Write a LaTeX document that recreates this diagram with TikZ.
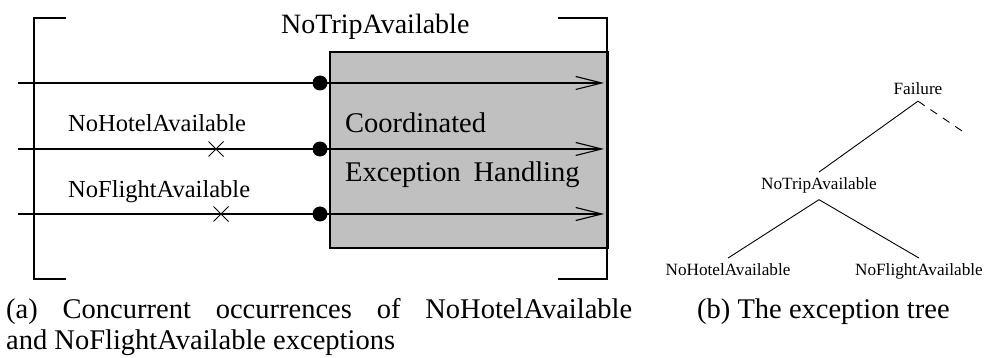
\documentclass[tikz,border=0pt]{standalone}
\usepackage{fontspec}
\setmainfont{Liberation Serif}
\usepackage{xcolor}
\definecolor{boxgray}{RGB}{192,192,192}
\usepackage{tikz}
\usetikzlibrary{arrows.meta, shapes.misc, positioning, calc}

\begin{document}
\begin{tikzpicture}[
  x=1pt, y=-1pt,
  >={Straight Barb[length=26pt, width=13pt]},
  handler/.style={
    rectangle, draw, line width=1.6pt, fill=boxgray, anchor=north west,
    minimum width=278pt, minimum height=196pt, inner sep=0pt
  },
  evline/.style={->, line width=1.1pt},
  bracket/.style={line width=1.4pt},
  dotmark/.style={circle, fill=black, inner sep=0pt, minimum size=15pt},
  crossmark/.style={cross out, draw, line width=1pt, inner sep=0pt, minimum size=14pt},
  lab/.style={inner sep=0pt, anchor=base west},
  evfont/.style={font=\fontsize{24.5}{29}\selectfont},
  boxfont/.style={font=\fontsize{28.5}{33}\selectfont},
  treelab/.style={inner sep=0pt, outer sep=6pt, anchor=base, font=\fontsize{17.2}{20}\selectfont},
  treeedge/.style={line width=0.9pt},
  capt/.style={inner sep=0pt, anchor=base west, font=\fontsize{28.5}{31}\selectfont}
]
\useasboundingbox (0,0) rectangle (986,358);

% (a) concurrent exceptions
\node[handler] (box) at (329,51) {};
\draw[bracket] (66,18) -| (34,279) -- (66,279);
\draw[bracket] (558,18) -| (607,279) -- (558,279);

\node[lab, font=\fontsize{28}{32}\selectfont] (trip) at (281,34) {NoTripAvailable};
\node[lab, boxfont] (coord) at (345,133) {Coordinated};
\node[lab, boxfont] (handling) at (345,182) {Exception\hspace{0.45em}Handling};

\foreach \i/\y in {1/83, 2/149, 3/214} {
  \coordinate (in\i) at (18,\y);
  \coordinate (out\i) at (604,\y);
  \draw[evline] (in\i) -- (out\i);
  \node[dotmark] (dot\i) at (320,\y) {};
}

\node[lab, evfont] (hotel) at (68,132) {NoHotelAvailable};
\node[lab, evfont] (flight) at (68,198) {NoFlightAvailable};
\node[crossmark] (hotelx) at (216,149) {};
\node[crossmark] (flightx) at (221,214) {};

% (b) exception tree
\node[treelab] (failure) at (918,95) {Failure};
\node[treelab] (treetrip) at (819,190) {NoTripAvailable};
\node[treelab] (treehotel) at (728,276) {NoHotelAvailable};
\node[treelab] (treeflight) at (919,276) {NoFlightAvailable};
\coordinate (other) at (965,133);

\draw[treeedge] (failure.south) -- (treetrip.north);
\draw[treeedge, dash pattern=on 8pt off 7pt] (failure.south) -- (other);
\draw[treeedge] (treetrip.south) -- (treehotel.north);
\draw[treeedge] (treetrip.south) -- (treeflight.north);

% captions
\node[capt, text width=626pt, align=justify] (capa) at (6,319)
  {(a) Concurrent occurrences of NoHotelAvailable\linebreak and NoFlightAvailable exceptions};
\node[capt] (capb) at (697,319) {(b) The exception tree};
\end{tikzpicture}
\end{document}
